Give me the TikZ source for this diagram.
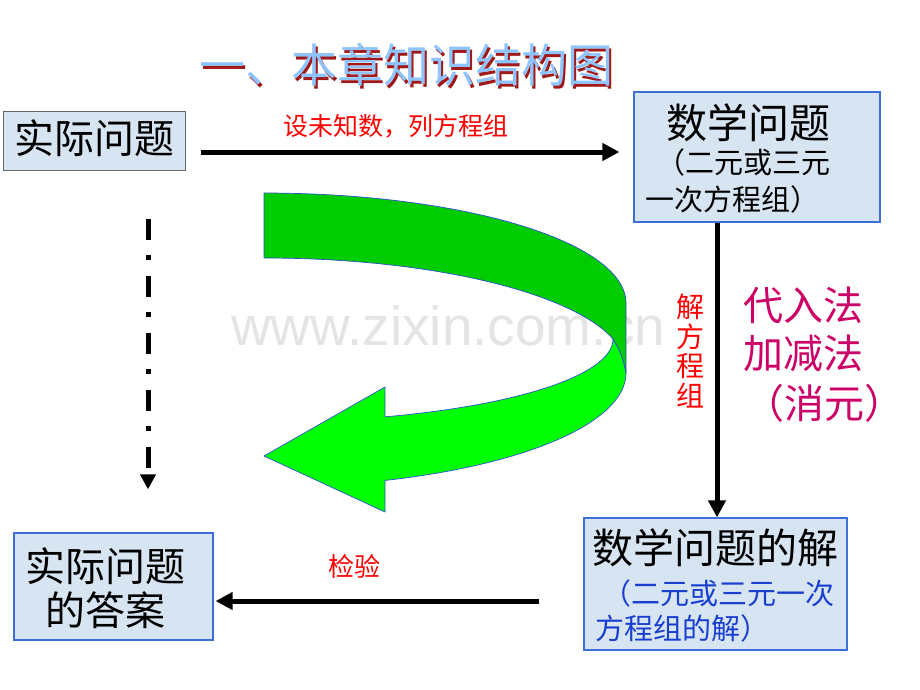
\documentclass[tikz,border=0pt]{standalone}
\usepackage{fontspec}
\newfontfamily\cjk{Noto Sans CJK SC}
\newfontfamily\wmfont{Liberation Sans}
\usetikzlibrary{arrows.meta}
\definecolor{boxfill}{HTML}{D7E5F2}
\definecolor{boxblue}{HTML}{3F6FD6}
\definecolor{titleblue}{HTML}{8EC4FF}
\definecolor{titleshadow}{HTML}{A01818}
\definecolor{darkgreen}{HTML}{00CC00}
\definecolor{brightgreen}{HTML}{00FF00}
\definecolor{outlineblue}{HTML}{2F4FD0}
\definecolor{labelred}{HTML}{FF0000}
\definecolor{methodmag}{HTML}{CC0066}
\definecolor{subblue}{HTML}{1A3FD0}
\definecolor{watermark}{HTML}{E4E4E4}
\tikzset{
  box/.style={draw=boxblue, line width=1.2pt, fill=boxfill, inner sep=0pt},
  bigtxt/.style={font=\cjk\fontsize{40}{44}\selectfont, text=black, inner sep=0pt},
  subtxt/.style={font=\cjk\fontsize{29}{32}\selectfont, inner sep=0pt},
  redlabel/.style={font=\cjk\fontsize{25}{28}\selectfont, text=labelred, inner sep=0pt},
  methodtxt/.style={font=\cjk\fontsize{40}{44}\selectfont, text=methodmag, inner sep=0pt},
  arr/.style={line width=5pt, -{Triangle[length=17pt,width=17pt]}},
  dasharr/.style={line width=5pt, dash pattern=on 21pt off 15.5pt on 5pt off 15.5pt, -{Triangle[length=15pt,width=15pt]}},
  ribbon/.style={draw=outlineblue, line width=0.7pt, line join=round}
}
\begin{document}
\begin{tikzpicture}[x=1pt,y=-1pt]
\useasboundingbox (0,0) rectangle (920,690);
\fill[white] (0,0) rectangle (920,690);

% watermark
\node[font=\wmfont\fontsize{55}{60}\selectfont, text=watermark, anchor=base west, inner sep=0pt] (wm) at (231,345) {www.zixin.com.cn};

% title (with dark red drop shadow)
\node[font=\cjk\fontsize{46}{50}\selectfont, text=titleshadow, inner sep=0pt] (titles) at (408.5,67.5) {一、本章知识结构图};
\node[font=\cjk\fontsize{46}{50}\selectfont, text=titleblue, inner sep=0pt] (title) at (406,65) {一、本章知识结构图};

% green curved arrow
\path[ribbon, fill=brightgreen]
  (385,387) -- (264,456) -- (385,512) -- (385,480)
  -- plot[domain=70.5:0, samples=40, variable=\t] ({264+362*cos(\t)},{373+114*sin(\t)})
  .. controls (624,360) and (619,348) .. (613,339)
  -- plot[domain=0:69.7, samples=40, variable=\t] ({264+349*cos(\t)},{339+83*sin(\t)})
  -- cycle;
\path[ribbon, fill=darkgreen]
  (264,193)
  -- plot[domain=-90:0, samples=50, variable=\t] ({264+362*cos(\t)},{303+110*sin(\t)})
  -- (626,373)
  .. controls (624,360) and (619,348) .. (613,339)
  -- plot[domain=-15.4:-90, samples=50, variable=\t] ({264+362*cos(\t)},{368+110*sin(\t)})
  -- cycle;

% boxes
\node[box, draw=black!60, line width=1pt, minimum width=182pt, minimum height=58pt] (box1) at (94,141) {};
\node[box, minimum width=246pt, minimum height=130pt] (box2) at (757,157) {};
\node[box, minimum width=263pt, minimum height=132pt] (box3) at (715.5,584) {};
\node[box, minimum width=199pt, minimum height=107pt] (box4) at (113.5,586.5) {};

% box 1 text
\node[bigtxt] (b1t) at (94,138) {实际问题};

% box 2 text
\node[bigtxt, font=\cjk\fontsize{41}{44}\selectfont] (b2t) at (748,123) {数学问题};
\node[subtxt, text=black] (b2a) at (743,162) {（二元或三元};
\node[subtxt, text=black] (b2b) at (732,199) {一次方程组）};

% box 3 text
\node[bigtxt, font=\cjk\fontsize{41}{44}\selectfont] (b3t) at (715,548) {数学问题的解};
\node[subtxt, text=subblue] (b3a) at (718,593) {（二元或三元一次};
\node[subtxt, text=subblue] (b3b) at (682,628) {方程组的解）};

% box 4 text
\node[bigtxt] (b4t) at (105,566) {实际问题};
\node[bigtxt] (b4b) at (105,610) {的答案};

% helper coordinates
\coordinate (a1y) at (0,152);
\coordinate (vx) at (717,0);
\coordinate (by) at (0,601);
\coordinate (dx) at (148,0);

% connectors
\draw[arr, shorten <=15pt, shorten >=14pt] (box1.east |- a1y) -- (box2.west |- a1y);
\draw[arr] (box2.south -| vx) -- (box3.north -| vx);
\draw[arr, shorten <=44pt, shorten >=2pt] (box3.west |- by) -- (box4.east |- by);
\draw[dasharr, shorten <=48pt, shorten >=43pt] (box1.south -| dx) -- (box4.north -| dx);

% labels
\node[redlabel] (lab1) at (396,126) {设未知数，列方程组};
\node[redlabel, font=\cjk\fontsize{26}{28}\selectfont] (lab2) at (354,567) {检验};
\node[redlabel, font=\cjk\fontsize{28}{29.5}\selectfont, align=center] (lab3) at (690,351) {解\\方\\程\\组};

% methods
\node[methodtxt] (m1) at (803,305) {代入法};
\node[methodtxt] (m2) at (803,353) {加减法};
\node[methodtxt] (m3) at (824,403) {（消元）};
\end{tikzpicture}
\end{document}
